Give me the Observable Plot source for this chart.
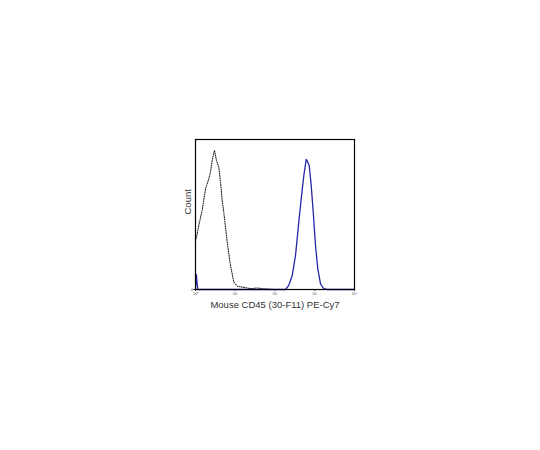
<!DOCTYPE html>
<html><head><meta charset="utf-8">
<script src="https://cdn.jsdelivr.net/npm/d3@7"></script>
<script src="https://cdn.jsdelivr.net/npm/@observablehq/plot@0.6"></script>
<style>body{margin:0;background:#fff}</style>
</head><body><div id="chart"></div>
<script>
const isoX = [1.0, 1.04, 1.21, 1.47, 1.79, 2.16, 2.38, 2.63, 3.0, 3.37, 3.86, 4.26, 4.7, 5.15, 6.27, 7.6, 9.2, 11.2, 15, 24, 36, 58, 100, 10000];
const isoY = [0.33, 0.338, 0.427, 0.527, 0.671, 0.738, 0.782, 0.86, 0.927, 0.86, 0.815, 0.715, 0.593, 0.515, 0.315, 0.16, 0.049, 0.022, 0.016, 0.006, 0.01, 0.003, 0, 0];
const cd45X = [1.0, 1.05, 1.1, 1.15, 137, 184, 222, 271, 328, 397, 456, 531, 610, 669, 725, 815, 915, 1045, 1194, 1396, 1690, 2057, 10000];
const cd45Y = [0, 0.1, 0.04, 0, 0, 0, 0.027, 0.093, 0.227, 0.449, 0.604, 0.76, 0.867, 0.849, 0.827, 0.693, 0.515, 0.293, 0.138, 0.038, 0.005, 0, 0];
const xTicks = [1, 10, 100, 1000, 10000];
const xTickLabels = ["10⁰", "10¹", "10²", "10³", "10⁴"];
const xLabel = "Mouse CD45 (30-F11) PE-Cy7";
const yLabel = "Count";

const iso = isoX.map((x, i) => ({x, y: isoY[i]}));
const cd45 = cd45X.map((x, i) => ({x, y: cd45Y[i]}));

const chart = Plot.plot({
  width: 540, height: 450,
  marginLeft: 195, marginRight: 186, marginTop: 139, marginBottom: 161,
  style: {fontFamily: "Liberation Sans, Arial, sans-serif", background: "#fff"},
  x: {type: "log", domain: [1, 10000], label: null},
  y: {domain: [0, 1], label: null},
  marks: [
    Plot.axisX({ticks: xTicks, tickFormat: d => xTickLabels[xTicks.indexOf(d)], tickSize: 2, fontSize: 3.5, tickPadding: 0.5, label: null, color: "#444"}),
    Plot.axisY({ticks: [0], tickFormat: d => "0", tickSize: 2, fontSize: 3.5, tickPadding: 0.5, label: null, color: "#444"}),
    Plot.line(iso, {x: "x", y: "y", stroke: "#111", strokeWidth: 1, strokeDasharray: "1,1.3"}),
    Plot.line(cd45, {x: "x", y: "y", stroke: "#2626aa", strokeWidth: 1.3}),
    Plot.frame({stroke: "#000", strokeWidth: 1.2}),
    Plot.text([xLabel], {text: d => d, frameAnchor: "bottom", lineAnchor: "middle", dy: 15, fontSize: 9.5, fill: "#333"}),
    Plot.text([yLabel], {text: d => d, frameAnchor: "left", rotate: -90, dx: -8, fontSize: 9.5, fill: "#333"})
  ]
});
document.getElementById("chart").appendChild(chart);
</script>
</body></html>
